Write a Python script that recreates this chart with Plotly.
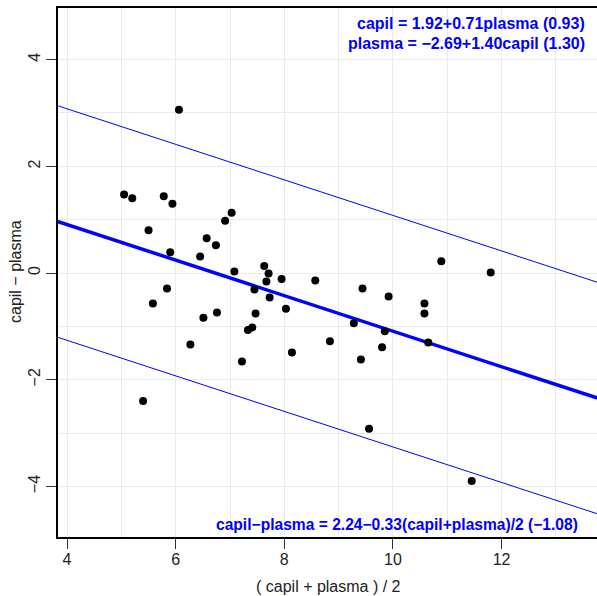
import plotly.graph_objects as go

# Bland-Altman style data: mean of (capil, plasma) vs difference capil - plasma
avg = [6.06, 5.05, 5.20, 5.78, 5.94, 5.50, 7.03, 6.91, 5.90, 6.57, 6.74, 6.45,
       7.08, 7.63, 7.71, 7.95, 7.67, 7.45, 7.73, 8.03, 5.84, 5.58, 6.51, 6.76,
       7.47, 7.41, 7.33, 6.27, 7.22, 8.14, 5.40, 8.57, 9.44, 9.92, 9.28, 9.85,
       8.84, 9.80, 9.41, 10.89, 11.80, 10.58, 10.58, 10.65, 9.56, 11.45]
diff = [3.06, 1.47, 1.40, 1.44, 1.30, 0.80, 1.13, 0.98, 0.39, 0.65, 0.52, 0.31,
        0.03, 0.13, -0.01, -0.11, -0.16, -0.31, -0.46, -0.67, -0.29, -0.57, -0.84, -0.74,
        -0.76, -1.02, -1.07, -1.34, -1.66, -1.49, -2.40, -0.14, -0.29, -0.44, -0.94, -1.09,
        -1.28, -1.39, -1.62, 0.22, 0.01, -0.57, -0.76, -1.30, -2.92, -3.90]

intercept = 2.24
slope = -0.333
loa = 2.17
line_x = [3.0, 15.0]

x_ticks = [4, 6, 8, 10, 12]
y_ticks = [-4, -2, 0, 2, 4]

label_top1 = "capil = 1.92+0.71plasma (0.93)"
label_top2 = "plasma = \u22122.69+1.40capil (1.30)"
label_bottom = "capil\u2212plasma = 2.24\u22120.33(capil+plasma)/2 (\u22121.08)"
x_title = "( capil + plasma ) / 2"
y_title = "capil \u2212 plasma"

FONT = "Liberation Sans, Arial, sans-serif"
BLUE = "#0000FF"
GRID = "#EBEBEB"

fig = go.Figure()

mid = [intercept + slope * v for v in line_x]
fig.add_trace(go.Scatter(x=line_x, y=[m + loa for m in mid], mode="lines",
                         line=dict(color=BLUE, width=1), hoverinfo="skip"))
fig.add_trace(go.Scatter(x=line_x, y=[m - loa for m in mid], mode="lines",
                         line=dict(color=BLUE, width=1), hoverinfo="skip"))
fig.add_trace(go.Scatter(x=line_x, y=mid, mode="lines",
                         line=dict(color=BLUE, width=3.5), hoverinfo="skip"))
fig.add_trace(go.Scatter(x=avg, y=diff, mode="markers",
                         marker=dict(color="black", size=8), hoverinfo="skip"))

axis_common = dict(
    showline=True, linecolor="black", linewidth=1.5,
    ticks="outside", ticklen=10, tickcolor="#333", tickwidth=1,
    tickfont=dict(family=FONT, size=16, color="#222"),
    showgrid=True, gridcolor=GRID, gridwidth=1.2,
    zeroline=False,
)

fig.update_layout(
    width=597, height=596,
    margin=dict(l=58, r=0, t=8, b=59),
    paper_bgcolor="white", plot_bgcolor="white",
    showlegend=False,
    xaxis=dict(range=[3.833, 13.757], tickvals=x_ticks, mirror=True,
               ticklabelstandoff=-3,
               minor=dict(dtick=1, tick0=0, showgrid=True, gridcolor=GRID,
                          gridwidth=1.2, ticks=""),
               **axis_common),
    yaxis=dict(range=[-4.948, 4.968], tickvals=y_ticks, tickangle=-90,
               minor=dict(dtick=1, tick0=0, showgrid=True, gridcolor=GRID,
                          gridwidth=1.2, ticks=""),
               **axis_common),
    annotations=[
        dict(text="<b>" + label_top1 + "</b>", xref="paper", yref="paper",
             x=0.9815, y=0.9716, xanchor="right", yanchor="middle", showarrow=False,
             font=dict(family=FONT, size=16, color=BLUE)),
        dict(text="<b>" + label_top2 + "</b>", xref="paper", yref="paper",
             x=0.9815, y=0.9338, xanchor="right", yanchor="middle", showarrow=False,
             font=dict(family=FONT, size=16, color=BLUE)),
        dict(text="<b>" + label_bottom + "</b>", xref="paper", yref="paper",
             x=0.9685, y=0.0236, xanchor="right", yanchor="middle", showarrow=False,
             font=dict(family=FONT, size=15.6, color=BLUE)),
        dict(text=x_title, xref="paper", yref="paper",
             x=(328 - 58) / 539, y=(537 - 586) / 529, xanchor="center", yanchor="middle",
             showarrow=False, font=dict(family=FONT, size=16, color="#222")),
        dict(text=y_title, xref="paper", yref="paper", textangle=-90,
             x=(15 - 58) / 539, y=(537 - 272) / 529, xanchor="center", yanchor="middle",
             showarrow=False, font=dict(family=FONT, size=16, color="#222")),
    ],
)

fig.write_html("out.html")
